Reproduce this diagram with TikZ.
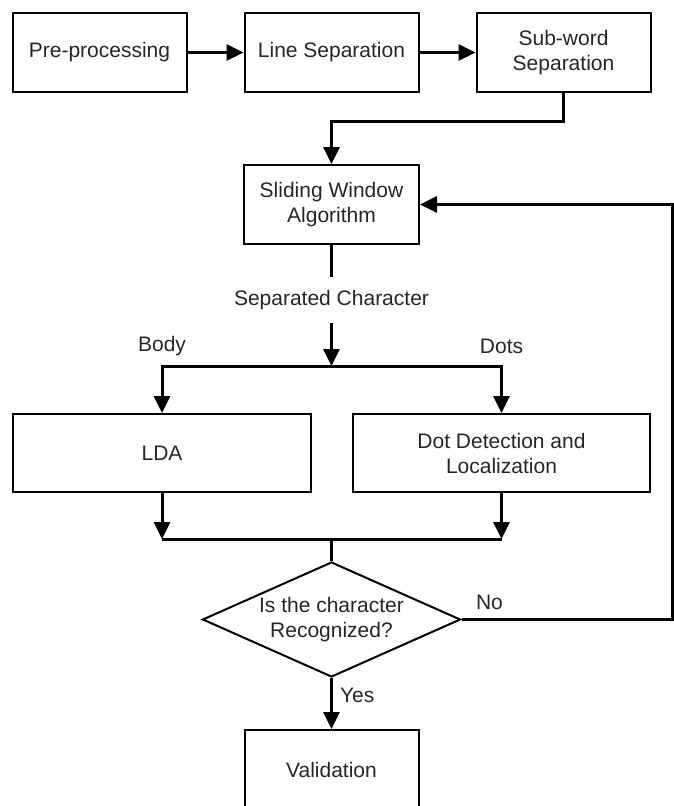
\documentclass[tikz,border=0pt]{standalone}
\usepackage{fontspec}
\setmainfont{Liberation Sans}
\usetikzlibrary{positioning,shapes.geometric,arrows.meta}

\tikzset{
  txt/.style={font=\fontsize{21}{25}\selectfont, text=black!85},
  box/.style={draw, txt, line width=2pt, minimum width=174pt, minimum height=79pt, inner sep=0pt, align=center},
  widebox/.style={box, minimum width=298pt, minimum height=78pt},
  decision/.style={draw, diamond, txt, line width=2pt, minimum width=258pt, minimum height=115pt, aspect=2.24, inner sep=0pt, align=center},
  lbl/.style={txt, inner sep=0pt},
  link/.style={line width=3pt},
  arr/.style={link, -{Triangle[length=17pt,width=16pt]}},
}

\begin{document}
\begin{tikzpicture}[x=1pt, y=-1pt]

  \useasboundingbox (0,0) rectangle (674,806);

  % Define nodes
  \node[box] (pre) at (99.5,52.5) {Pre-processing};
  \node[box, right=56pt of pre] (line) {Line Separation};
  \node[box, right=56pt of line] (sub) {Sub-word\\Separation};
  \node[box, minimum width=175pt, below=71pt of line] (slide) {Sliding Window\\Algorithm};
  \node[lbl, inner ysep=13pt, below=55pt of slide.south, anchor=center] (sep) {Separated Character};
  \coordinate[below=121pt of slide] (split);
  \node[widebox] (lda) at (162,453) {LDA};
  \node[widebox, minimum width=297pt, right=40pt of lda] (dot) {Dot Detection and\\Localization};
  \node[decision, below=316pt of slide] (dec) {Is the character\\Recognized?};
  \coordinate[above=22pt of dec] (merge);
  \node[box, below=51pt of dec] (valid) {Validation};
  \coordinate (loop) at (672,0);

  % Connect the nodes
  \draw[arr] (pre) -- (line);
  \draw[arr] (line) -- (sub);
  \draw[arr] (sub.south) -- ++(0,28) -| (slide.north);
  \draw[link] (slide) -- (sep);
  \draw[arr] (sep) -- (split);
  \draw[arr] (split) -| node[lbl, pos=0.5, above=9pt] {Body} (lda);
  \draw[arr] (split) -| node[lbl, pos=0.5, above=11pt] {Dots} (dot);
  \draw[arr] (lda) -- (lda.south |- merge);
  \draw[arr] (dot) -- (dot.south |- merge);
  \draw[link] (lda.south |- merge) -- (dot.south |- merge);
  \draw[link] (merge) -- (dec);
  \draw[arr] (dec) -- node[lbl, pos=0.35, right=7pt] {Yes} (valid);
  \draw[arr] (dec.east) -- node[lbl, pos=0, anchor=south west, xshift=13pt, yshift=8pt] {No}
    (dec.east -| loop) |- (slide.east);

\end{tikzpicture}
\end{document}
